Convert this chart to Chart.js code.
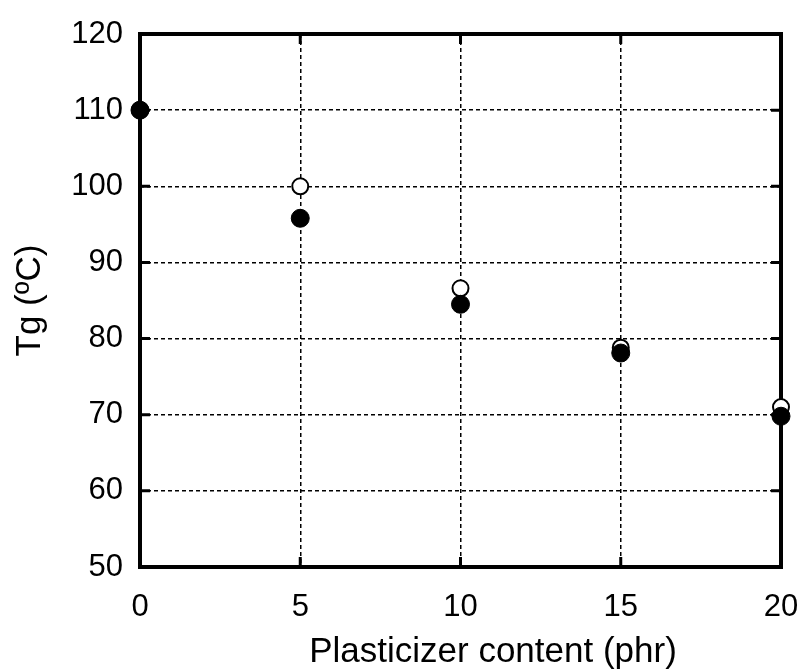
<!DOCTYPE html>
<html>
<head>
<meta charset="utf-8">
<script src="https://cdn.jsdelivr.net/npm/chart.js@4/dist/chart.umd.min.js"></script>
<style>
html,body{margin:0;padding:0;background:#fff;}
#wrap{width:801px;height:670px;position:relative;}
</style>
</head>
<body>
<div id="wrap"><canvas id="c" width="801" height="670"></canvas></div>
<script>
const plasticizer = [0, 5, 10, 15, 20];
const tgFilled = [110, 95.8, 84.5, 78.1, 69.8];
const tgOpen = [110, 100, 86.6, 78.8, 71.0];
const xTicks = [0, 5, 10, 15, 20];
const yTicks = [50, 60, 70, 80, 90, 100, 110, 120];
const xTitle = 'Plasticizer content (phr)';
const yTitle = 'Tg (ºC)';

const FONT = "'Liberation Sans', Arial, sans-serif";

const framePlugin = {
  id: 'frame',
  beforeDatasetsDraw(chart) {
    const {ctx, chartArea: a, scales: {x, y}} = chart;
    ctx.save();
    ctx.strokeStyle = '#000';
    ctx.lineWidth = 4;
    ctx.strokeRect(a.left, a.top, a.right - a.left, a.bottom - a.top);
    ctx.lineWidth = 3;
    const L = 10;
    ctx.beginPath();
    xTicks.forEach(v => {
      const px = x.getPixelForValue(v);
      ctx.moveTo(px, a.bottom); ctx.lineTo(px, a.bottom - L);
      ctx.moveTo(px, a.top); ctx.lineTo(px, a.top + L);
    });
    yTicks.forEach(v => {
      const py = y.getPixelForValue(v);
      ctx.moveTo(a.left, py); ctx.lineTo(a.left + L, py);
      ctx.moveTo(a.right, py); ctx.lineTo(a.right - L, py);
    });
    ctx.stroke();
    ctx.restore();
  },
  afterDraw(chart) {
    const {ctx} = chart;
    ctx.save();
    ctx.fillStyle = '#000';
    ctx.font = '35px ' + FONT;
    ctx.textAlign = 'center';
    ctx.textBaseline = 'middle';
    ctx.fillText(xTitle, 493, 652);
    ctx.restore();
  }
};

new Chart(document.getElementById('c'), {
  type: 'scatter',
  data: {
    datasets: [
      {
        label: 'filled',
        data: plasticizer.map((v, i) => ({x: v, y: tgFilled[i]})),
        pointRadius: 9,
        pointBackgroundColor: '#000',
        pointBorderColor: '#000',
        pointBorderWidth: 1,
        showLine: false,
        clip: false,
        order: 1
      },
      {
        label: 'open',
        data: plasticizer.map((v, i) => ({x: v, y: tgOpen[i]})),
        pointRadius: 8,
        pointBackgroundColor: '#fff',
        pointBorderColor: '#000',
        pointBorderWidth: 2,
        showLine: false,
        clip: false,
        order: 2
      }
    ]
  },
  options: {
    responsive: false,
    animation: false,
    layout: {padding: {left: 0, right: 20, top: 34, bottom: 0}},
    plugins: {legend: {display: false}, tooltip: {enabled: false}},
    scales: {
      x: {
        type: 'linear',
        min: 0, max: 20,
        afterBuildTicks: s => { s.ticks = xTicks.map(v => ({value: v})); },
        afterFit: s => { s.height = 103; s.paddingLeft = 0; s.paddingRight = 0; },
        ticks: {color: '#000', font: {family: FONT, size: 31}, padding: 22, maxRotation: 0},
        grid: {color: '#000', lineWidth: 1.5, drawTicks: false},
        border: {display: false, dash: [4, 3]}
      },
      y: {
        type: 'linear',
        min: 50, max: 120,
        afterBuildTicks: s => { s.ticks = yTicks.map(v => ({value: v})); },
        afterFit: s => { s.width = 140; s.paddingTop = 0; s.paddingBottom = 0; },
        ticks: {color: '#000', font: {family: FONT, size: 31}, padding: 17},
        grid: {color: '#000', lineWidth: 1.5, drawTicks: false},
        border: {display: false, dash: [4, 3]},
        title: {display: true, text: yTitle, color: '#000',
                font: {family: FONT, size: 35, lineHeight: 1}, padding: {top: 13, bottom: 13}}
      }
    }
  },
  plugins: [framePlugin]
});
</script>
</body>
</html>
